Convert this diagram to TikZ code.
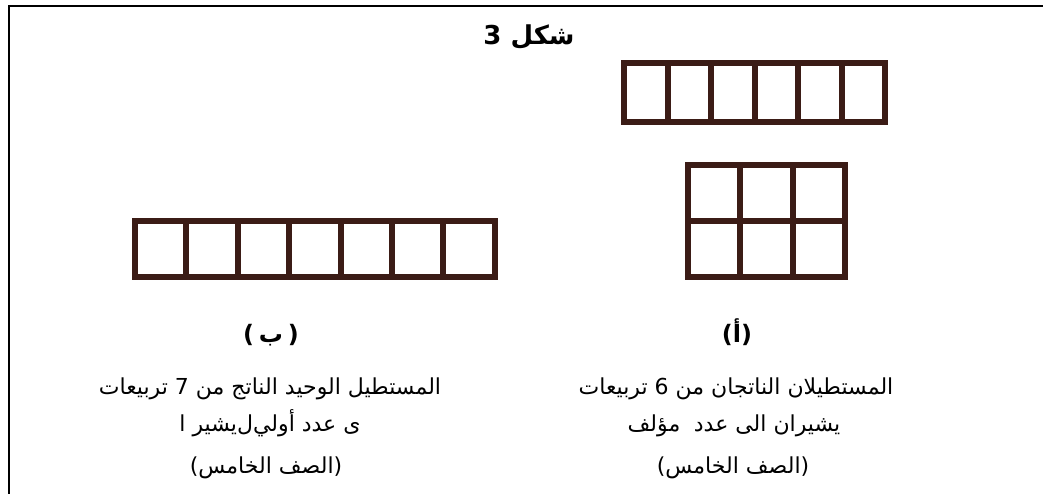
\documentclass[tikz,border=0pt]{standalone}
\usepackage{fontspec}
\setmainfont{DejaVu Sans}
\newfontfamily\arabicfont[Script=Arabic]{DejaVu Sans}
\TeXXeTstate=1
\usetikzlibrary{positioning}
\definecolor{cellbrown}{HTML}{3B1C16}
\tikzset{
  cell/.style={draw=cellbrown, line width=6pt, outer sep=0pt, inner sep=0pt, fill=white},
  topcell/.style={cell, minimum width=43.5pt, minimum height=59pt},
  gridcell/.style={cell, minimum width=52.3pt, minimum height=56pt},
  rowcell/.style={cell, minimum width=51.4pt, minimum height=56pt},
  caption/.style={anchor=base, inner sep=0pt, font=\arabicfont\fontsize{22}{26}\selectfont},
  tag/.style={anchor=base, inner sep=0pt, font=\arabicfont\bfseries\fontsize{24}{28}\selectfont}
}

\begin{document}
\begin{tikzpicture}[x=1pt,y=-1pt]
  \useasboundingbox (0,0) rectangle (1043,494);
  \coordinate (c1) at (9,6);
  \coordinate (c2) at (1043,6);
  \coordinate (c3) at (9,494);
  \draw[line width=1.6pt] (c2) -- (c1) -- (c3);

  \node[tag, font=\arabicfont\bfseries\fontsize{26}{30}\selectfont] (title) at (529,45) {\beginR شكل 3\endR};

  \node[topcell, anchor=north west] (a1) at (624,63) {};
  \foreach \i [count=\j from 2] in {1,...,5}
    \node[topcell, right=0pt of a\i] (a\j) {};

  \node[gridcell, anchor=north west] (g1) at (688,165) {};
  \node[gridcell, right=0pt of g1] (g2) {};
  \node[gridcell, right=0pt of g2] (g3) {};
  \node[gridcell, below=0pt of g1] (g4) {};
  \node[gridcell, right=0pt of g4] (g5) {};
  \node[gridcell, right=0pt of g5] (g6) {};

  \node[rowcell, anchor=north west] (b1) at (135,221) {};
  \foreach \i [count=\j from 2] in {1,...,6}
    \node[rowcell, right=0pt of b\i] (b\j) {};

  \node[tag] (tagA) at (737,342) {\beginR(أ)\endR};
  \node[caption] (capA1) at (736,394) {\beginR المستطيلان الناتجان من 6 تربيعات\endR};
  \node[caption] (capA2) at (734,431) {\beginR يشيران الى عدد\hspace{0.3em} مؤلف\endR};
  \node[caption] (capA3) at (733,473) {\beginR(الصف الخامس)\endR};

  \node[tag] (tagB) at (271,342) {\beginR(^^^^2009ب^^^^2009)\endR};
  \node[caption] (capB1) at (270,394) {\beginR المستطيل الوحيد الناتج من 7 تربيعات\endR};
  \node[caption] (capB2) at (270,431) {\beginR ى عدد أولي^^^^200cل^^^^200cيشير ا\endR};
  \node[caption] (capB3) at (266,473) {\beginR(الصف الخامس)\endR};
\end{tikzpicture}
\end{document}
